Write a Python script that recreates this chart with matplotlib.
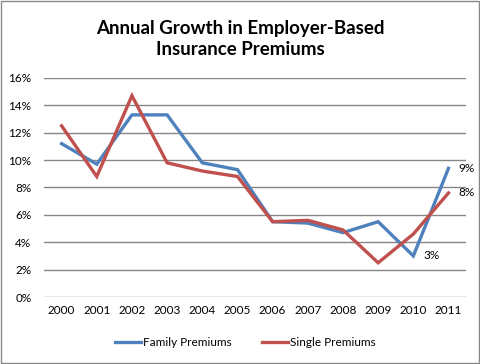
import matplotlib
matplotlib.use("Agg")
import matplotlib.pyplot as plt
from matplotlib.patches import Rectangle

years = ["2000", "2001", "2002", "2003", "2004", "2005", "2006", "2007", "2008", "2009", "2010", "2011"]
family = [11.2, 9.7, 13.3, 13.3, 9.8, 9.3, 5.5, 5.4, 4.7, 5.5, 3.0, 9.4]
single = [12.5, 8.8, 14.7, 9.8, 9.2, 8.8, 5.5, 5.6, 4.9, 2.5, 4.6, 7.6]
yticks = [0, 2, 4, 6, 8, 10, 12, 14, 16]

plt.rcParams['font.family'] = ['Lato', 'DejaVu Sans']
blue = '#4F81BD'
red = '#C0504D'

fig = plt.figure(figsize=(4.81, 3.64), dpi=100)
fig.patches.append(Rectangle((0.002, 0.003), 0.993, 0.993, transform=fig.transFigure,
                             fill=False, edgecolor='#888888', linewidth=1))
ax = fig.add_axes([0.0915, 0.184, 0.8775, 0.602])
x = list(range(len(years)))
ax.plot(x, family, color=blue, linewidth=2.4, label='Family Premiums', solid_joinstyle='miter')
ax.plot(x, single, color=red, linewidth=2.4, label='Single Premiums', solid_joinstyle='miter')
ax.set_xlim(-0.5, len(years) - 0.5)
ax.set_ylim(0, 16)
ax.set_yticks(yticks)
ax.set_yticklabels([f"{t}%" for t in yticks], fontsize=8.5)
ax.set_xticks(x)
ax.set_xticklabels(years, fontsize=8.5)
ax.tick_params(axis='y', length=0, pad=9)
ax.tick_params(axis='x', length=0, pad=6)
ax.grid(axis='y', color='#868686', linewidth=1)
ax.set_axisbelow(True)
for s in ax.spines.values():
    s.set_visible(False)

for val, xi in [(family[-1], x[-1]), (single[-1], x[-1]), (family[-2], x[-2])]:
    ax.annotate(f"{int(val + 0.5)}%", (xi, val), xytext=(7, 0), textcoords='offset points',
                va='center', ha='left', fontsize=8.5)

fig.text(0.5, 0.893, "Annual Growth in Employer-Based\nInsurance Premiums", ha='center', va='center',
         fontsize=13.5, fontweight='bold', linespacing=1.3)

fig.legend(loc='center', bbox_to_anchor=(0.51, 0.058), ncol=2, frameon=False, fontsize=8.5,
           handlelength=2.2, columnspacing=2.5, handletextpad=0.2)

fig.savefig("out.png", dpi=100)
